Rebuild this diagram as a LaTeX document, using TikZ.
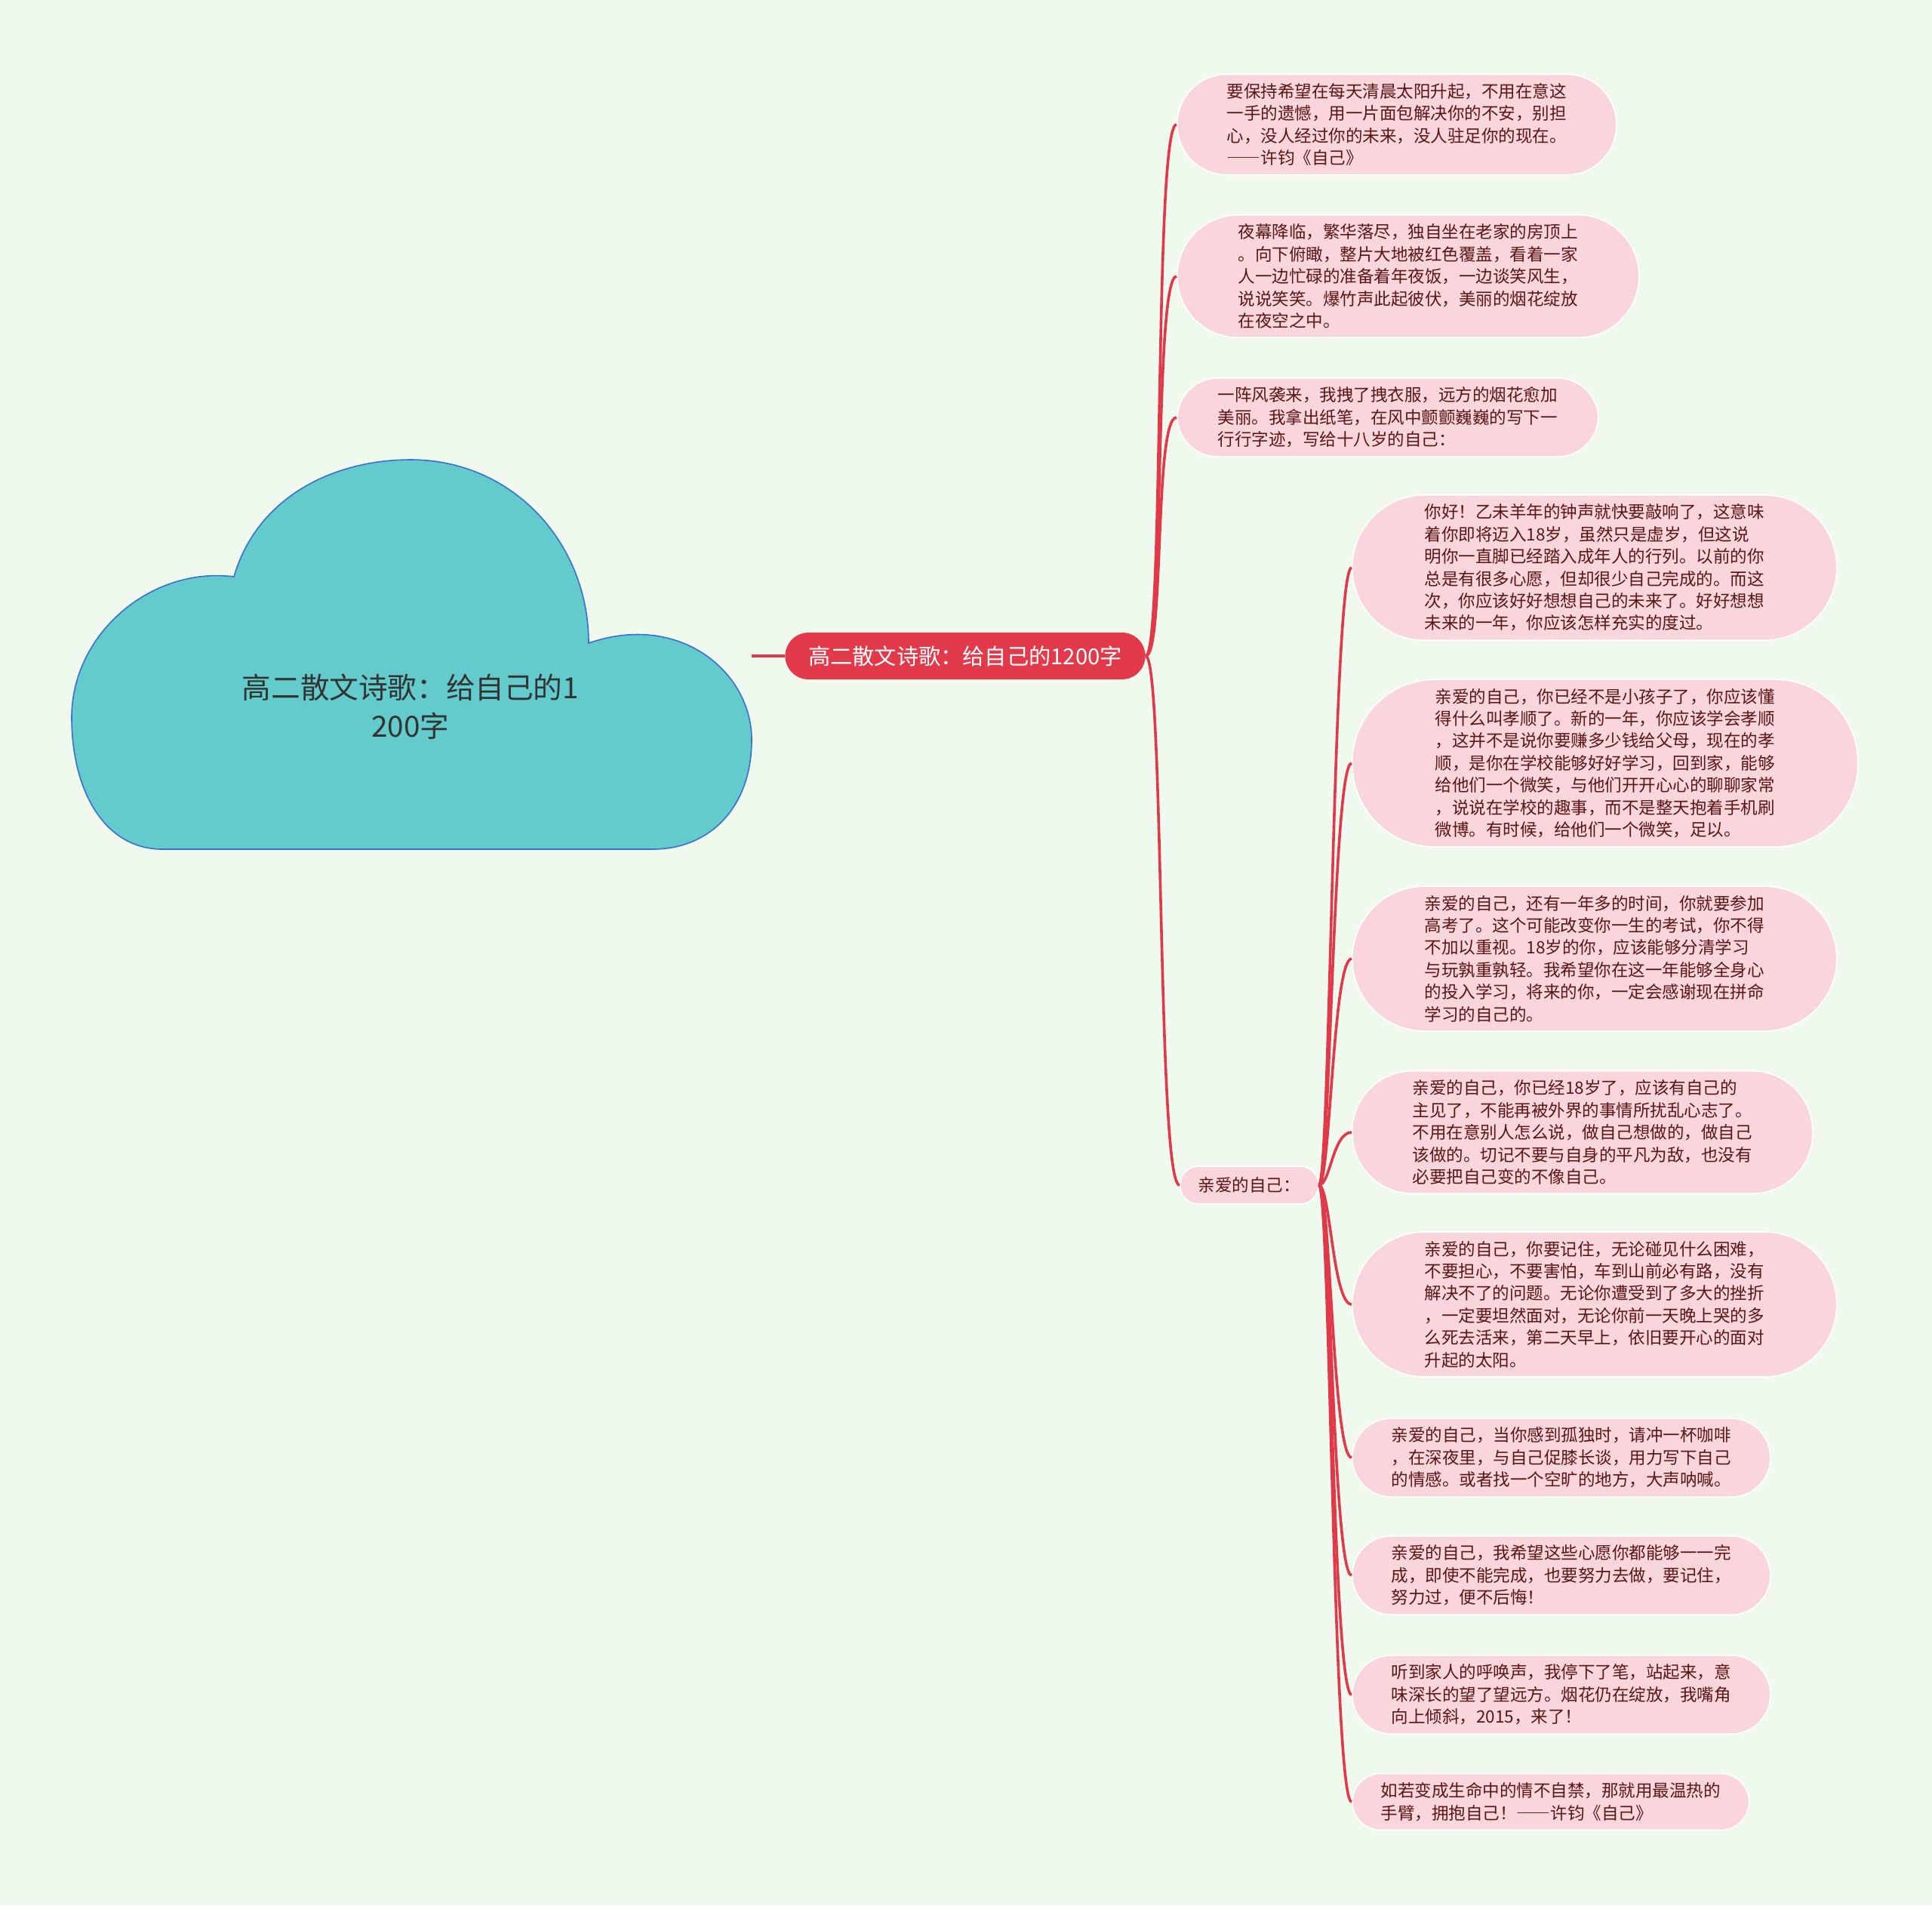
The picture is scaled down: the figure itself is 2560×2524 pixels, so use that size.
\documentclass[tikz,border=0pt]{standalone}
\usepackage{fontspec}
\usepackage{xcolor}
\usepackage{tikz}
\newfontfamily\cjk{Noto Sans CJK SC}
\newfontfamily\cjkfw[RawFeature=+fwid]{Noto Sans CJK SC}

\definecolor{bgmint}{HTML}{F0F9EE}
\definecolor{leafpink}{HTML}{F9D6DC}
\definecolor{leafink}{HTML}{5A1515}
\definecolor{linkred}{HTML}{E0394A}
\definecolor{titlered}{HTML}{E23A4A}
\definecolor{cloudteal}{HTML}{63CBCC}
\definecolor{cloudblue}{HTML}{3A6FD0}

\begin{document}
\begin{tikzpicture}[x=0.5pt,y=-0.5pt,
    leaf/.style={draw=white, line width=0.8pt, fill=leafpink, text=leafink, align=left,
        font=\cjk\fontsize{11.25}{14.7}\selectfont, inner ysep=6pt,
        inner xsep=#1, rounded corners=#1, anchor=west},
    title/.style={fill=titlered, text=white, font=\cjk\fontsize{14.6}{18}\selectfont,
        inner xsep=15.5pt, minimum height=31pt, rounded corners=15.5pt},
    topic/.style={text=black!80, align=center, font=\cjk\fontsize{19.3}{25.5}\selectfont},
    link/.style={draw=linkred, line width=1.8pt}]
    \useasboundingbox[fill=bgmint] (0,0) rectangle (2560,2524);

    % cloud
    \draw[fill=cloudteal, draw=cloudblue, line width=0.8pt] (215,1125)
        .. controls (140,1125) and (95,1050) .. (95,950)
        .. controls (95,840) and (200,750) .. (310,764)
        .. controls (340,660) and (440,609) .. (544,609)
        .. controls (680,609) and (780,720) .. (780,852)
        .. controls (900,810) and (996,890) .. (996,980)
        .. controls (996,1070) and (940,1125) .. (865,1125) -- cycle;
    \node[topic] (topic) at (544,936) {高二散文诗歌：给自己的1\\200字};
    \coordinate (cloudtip) at (996,869);

    \node[title] (title) at (1279,869) {高二散文诗歌：给自己的1200字};

    \node[leaf=33pt] (t1) at (1559,165) {要保持希望在每天清晨太阳升起，不用在意这\\一手的遗憾，用一片面包解决你的不安，别担\\心，没人经过你的未来，没人驻足你的现在。\\{\cjkfw ——}许钧《自己》};
    \node[leaf=40.5pt] (t2) at (1559,366) {夜幕降临，繁华落尽，独自坐在老家的房顶上\\。向下俯瞰，整片大地被红色覆盖，看着一家\\人一边忙碌的准备着年夜饭，一边谈笑风生，\\说说笑笑。爆竹声此起彼伏，美丽的烟花绽放\\在夜空之中。};
    \node[leaf=27pt] (t3) at (1559,553) {一阵风袭来，我拽了拽衣服，远方的烟花愈加\\美丽。我拿出纸笔，在风中颤颤巍巍的写下一\\行行字迹，写给十八岁的自己：};
    \node[leaf=12pt, minimum height=25pt] (self) at (1563,1570) {亲爱的自己：};

    \node[leaf=48pt] (g1) at (1791,752) {你好！乙未羊年的钟声就快要敲响了，这意味\\着你即将迈入18岁，虽然只是虚岁，但这说\\明你一直脚已经踏入成年人的行列。以前的你\\总是有很多心愿，但却很少自己完成的。而这\\次，你应该好好想想自己的未来了。好好想想\\未来的一年，你应该怎样充实的度过。};
    \node[leaf=55pt] (g2) at (1791,1011) {亲爱的自己，你已经不是小孩子了，你应该懂\\得什么叫孝顺了。新的一年，你应该学会孝顺\\，这并不是说你要赚多少钱给父母，现在的孝\\顺，是你在学校能够好好学习，回到家，能够\\给他们一个微笑，与他们开开心心的聊聊家常\\，说说在学校的趣事，而不是整天抱着手机刷\\微博。有时候，给他们一个微笑，足以。};
    \node[leaf=48pt] (g3) at (1791,1270) {亲爱的自己，还有一年多的时间，你就要参加\\高考了。这个可能改变你一生的考试，你不得\\不加以重视。18岁的你，应该能够分清学习\\与玩孰重孰轻。我希望你在这一年能够全身心\\的投入学习，将来的你，一定会感谢现在拼命\\学习的自己的。};
    \node[leaf=40pt] (g4) at (1791,1500) {亲爱的自己，你已经18岁了，应该有自己的\\主见了，不能再被外界的事情所扰乱心志了。\\不用在意别人怎么说，做自己想做的，做自己\\该做的。切记不要与自身的平凡为敌，也没有\\必要把自己变的不像自己。};
    \node[leaf=48pt] (g5) at (1791,1728) {亲爱的自己，你要记住，无论碰见什么困难，\\不要担心，不要害怕，车到山前必有路，没有\\解决不了的问题。无论你遭受到了多大的挫折\\，一定要坦然面对，无论你前一天晚上哭的多\\么死去活来，第二天早上，依旧要开心的面对\\升起的太阳。};
    \node[leaf=26pt] (g6) at (1791,1931) {亲爱的自己，当你感到孤独时，请冲一杯咖啡\\，在深夜里，与自己促膝长谈，用力写下自己\\的情感。或者找一个空旷的地方，大声呐喊。};
    \node[leaf=26pt] (g7) at (1791,2087) {亲爱的自己，我希望这些心愿你都能够一一完\\成，即使不能完成，也要努力去做，要记住，\\努力过，便不后悔！};
    \node[leaf=26pt] (g8) at (1791,2245) {听到家人的呼唤声，我停下了笔，站起来，意\\味深长的望了望远方。烟花仍在绽放，我嘴角\\向上倾斜，2015，来了！};
    \node[leaf=19pt] (g9) at (1791,2387) {如若变成生命中的情不自禁，那就用最温热的\\手臂，拥抱自己！{\cjkfw ——}许钧《自己》};

    % connectors
    \draw[link, line width=2.2pt] (cloudtip) -- (title.west);
    \foreach \n in {t1,t2,t3,self}
        \draw[link] (title.east) .. controls +(25,0) and +(-30,0) .. (\n.west);
    \foreach \n in {g1,g2,g3,g4,g5,g6,g7,g8,g9}
        \draw[link] (self.east) .. controls +(15,0) and +(-25,0) .. (\n.west);
\end{tikzpicture}
\end{document}
